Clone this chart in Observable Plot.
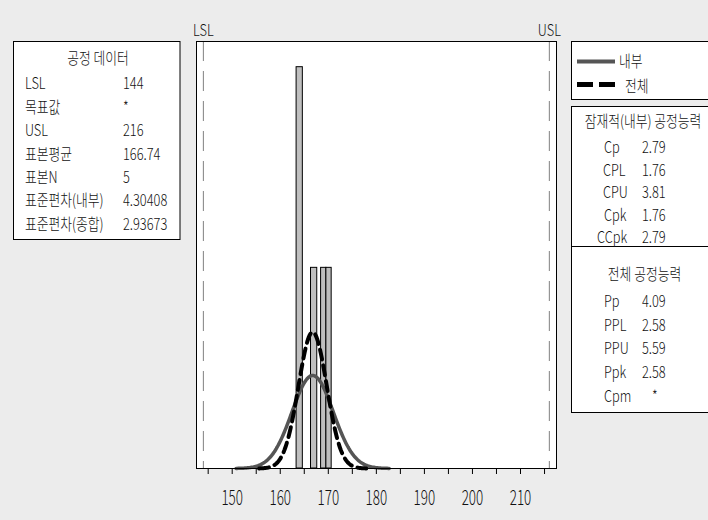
<!DOCTYPE html>
<html><head><meta charset="utf-8">
<script src="https://cdn.jsdelivr.net/npm/d3@7"></script>
<script src="https://cdn.jsdelivr.net/npm/@observablehq/plot@0.6"></script>
<style>
html,body{margin:0;padding:0;background:#ececec;}
#chart svg{display:block;}
</style></head><body><div id="chart"></div>
<script>
// ---- data ----
const LSL = 144, USL = 216;
const sampleMean = 166.74, sampleN = 5, sdWithin = 4.30408, sdOverall = 2.93673;
const binStart = [163.4, 166.4, 168.5, 169.6];
const binEnd   = [164.7, 167.7, 169.6, 170.7];
const binCount = [2, 1, 1, 1];
const tickValues = [145, 150, 155, 160, 165, 170, 175, 180, 185, 190, 195, 200, 205, 210, 215];
const tickLabels = [150, 160, 170, 180, 190, 200, 210];
const specLabels = ["LSL", "USL"];
const processTitle = "공정 데이터";
const processLabels = ["LSL", "목표값", "USL", "표본평균", "표본N", "표준편차(내부)", "표준편차(종합)"];
const processValues = ["144", "*", "216", "166.74", "5", "4.30408", "2.93673"];
const legendLabels = ["내부", "전체"];
const potentialTitle = "잠재적(내부) 공정능력";
const potentialLabels = ["Cp", "CPL", "CPU", "Cpk", "CCpk"];
const potentialValues = ["2.79", "1.76", "3.81", "1.76", "2.79"];
const overallTitle = "전체 공정능력";
const overallLabels = ["Pp", "PPL", "PPU", "Ppk", "Cpm"];
const overallValues = ["4.09", "2.58", "5.59", "2.58", "*"];

// ---- derived tables ----
const bins = binCount.map((c, i) => ({x1: binStart[i], x2: binEnd[i], count: c}));
function normalCurve(mean, sd, k) {
  const pts = [];
  const n = 160;
  for (let i = 0; i <= n; i++) {
    const x = mean - k * sd + (2 * k * sd) * i / n;
    const y = sampleN * Math.exp(-0.5 * ((x - mean) / sd) ** 2) / (sd * Math.sqrt(2 * Math.PI));
    pts.push({x, y});
  }
  return pts;
}
const withinCurve = normalCurve(sampleMean, sdWithin, 3.7);
const overallCurve = normalCurve(sampleMean, sdOverall, 3.8);
const specs = [{x: LSL, label: specLabels[0]}, {x: USL, label: specLabels[1]}];

const FONT = "'Noto Sans CJK KR', 'Noto Sans', sans-serif";

const svgEl = Plot.plot({
  width: 708, height: 520,
  marginLeft: 196, marginRight: 152, marginTop: 41, marginBottom: 52,
  style: {background: "#ececec", fontFamily: FONT, fontWeight: 300, color: "#111", overflow: "visible"},
  x: {domain: [142.57, 217.49], label: null},
  y: {domain: [0, 2.128], axis: null},
  marks: [
    Plot.frame({fill: "white"}),
    Plot.ruleX(specs, {x: "x", stroke: "#808080", strokeWidth: 1, strokeDasharray: "20,10"}),
    Plot.rect(bins, {x1: "x1", x2: "x2", y1: 0, y2: "count", fill: "#bfbfbf", stroke: "#000", strokeWidth: 1}),
    Plot.line(withinCurve, {x: "x", y: "y", stroke: "#555", strokeWidth: 3.5}),
    Plot.line(overallCurve, {x: "x", y: "y", stroke: "#000", strokeWidth: 4, strokeDasharray: "10,6"}),
    Plot.frame({stroke: "#000"}),
    Plot.axisX({ticks: tickValues, tickFormat: () => "", tickSize: 6, stroke: "#000"}),
    Plot.text(tickLabels, {x: d => d, text: d => String(d), frameAnchor: "bottom", lineAnchor: "top", dy: 22, fontSize: 21, fill: "#111"}),
    Plot.text(specs, {x: "x", text: "label", frameAnchor: "top", lineAnchor: "middle", dy: -11, fontSize: 16, fill: "#111"})
  ]
});
document.getElementById("chart").appendChild(svgEl);

// condense the library's texts horizontally (keeps their own positions)
for (const t of svgEl.querySelectorAll("text")) {
  const w = t.getComputedTextLength();
  if (w > 0) {
    const s = /^\d+$/.test(t.textContent.trim()) ? 0.64 : 0.8;
    t.setAttribute("textLength", (w * s).toFixed(2));
    t.setAttribute("lengthAdjust", "spacingAndGlyphs");
  }
}

// ---- side tables ----
const svg = d3.select(svgEl);
const g = svg.append("g").attr("font-family", FONT).attr("font-weight", 300).attr("font-size", 16).attr("fill", "#111");
const S = 0.8;
function txt(x, y, s, anchor = "start") {
  g.append("text").attr("transform", `translate(${x},${y}) scale(${S},1)`)
    .attr("text-anchor", anchor).text(s);
}
function box(x, y, w, h) {
  g.append("rect").attr("x", x).attr("y", y).attr("width", w).attr("height", h)
    .attr("fill", "white").attr("stroke", "#000").attr("stroke-width", 1);
}
// process data
box(13.5, 41.5, 166.5, 198);
txt(98, 64, processTitle, "middle");
const leftRows = [89, 112.5, 136, 159.5, 183, 206, 229.5];
processLabels.forEach((l, i) => { txt(25, leftRows[i], l); txt(123, leftRows[i], processValues[i]); });

// legend
box(571.5, 41.5, 150, 58);
g.append("line").attr("x1", 577).attr("x2", 615).attr("y1", 61.5).attr("y2", 61.5)
  .attr("stroke", "#555").attr("stroke-width", 4);
g.append("line").attr("x1", 577).attr("x2", 615).attr("y1", 84.5).attr("y2", 84.5)
  .attr("stroke", "#000").attr("stroke-width", 5).attr("stroke-dasharray", "16,6");
txt(619, 67, legendLabels[0]);
txt(625, 91.5, legendLabels[1]);

// capability
box(571.5, 106.5, 150, 306);
g.append("line").attr("x1", 571.5).attr("x2", 721).attr("y1", 246.5).attr("y2", 246.5)
  .attr("stroke", "#000").attr("stroke-width", 1);
txt(643, 127, potentialTitle, "middle");
const potRows = [153, 175.5, 198, 220.5, 243];
const potX = [604, 603, 603, 604, 597];
potentialLabels.forEach((l, i) => { txt(potX[i], potRows[i], l); txt(642, potRows[i], potentialValues[i]); });
txt(644.5, 280, overallTitle, "middle");
const ovRows = [307, 330.5, 354, 378, 401.5];
overallLabels.forEach((l, i) => { txt(604, ovRows[i], l); txt(overallValues[i] === "*" ? 652 : 642, ovRows[i], overallValues[i]); });
</script></body></html>
